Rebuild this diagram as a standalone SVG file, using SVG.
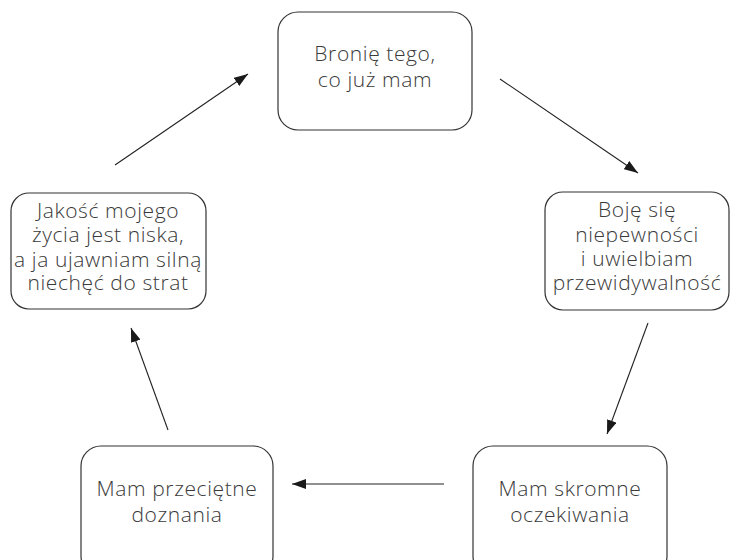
<svg xmlns="http://www.w3.org/2000/svg" width="731" height="560" viewBox="0 0 731 560">
<defs>
<marker id="ah" viewBox="0 0 14 10" refX="14" refY="5" markerWidth="14" markerHeight="10" markerUnits="userSpaceOnUse" orient="auto">
<path d="M0,0 L14,5 L0,10 Z" fill="#1a1a1a"/>
</marker>
</defs>
<style>
.box{fill:#fff;stroke:#333;stroke-width:1.2}
.t{font-family:"Open Sans","Noto Sans",sans-serif;font-size:21px;letter-spacing:0.6px;fill:#3a3a3a;text-anchor:middle;font-weight:300}
.c{stroke:#222;stroke-width:1.1;fill:none;marker-end:url(#ah)}
</style>
<rect width="731" height="560" fill="#fff"/>
<g id="n1">
<rect class="box" x="278" y="12" width="194" height="118" rx="20"/>
<text class="t" x="375" y="61">Bronię tego,</text>
<text class="t" x="375" y="87">co już mam</text>
</g>
<g id="n2">
<rect class="box" x="545" y="192" width="184" height="118" rx="18"/>
<text class="t" x="637" y="217">Boję się</text>
<text class="t" x="637" y="242">niepewności</text>
<text class="t" x="637" y="266">i uwielbiam</text>
<text class="t" x="637" y="290">przewidywalność</text>
</g>
<g id="n3">
<rect class="box" x="473" y="446" width="194" height="130" rx="20"/>
<text class="t" x="570" y="496">Mam skromne</text>
<text class="t" x="570" y="522">oczekiwania</text>
</g>
<g id="n4">
<rect class="box" x="81" y="446" width="192" height="130" rx="20"/>
<text class="t" x="177" y="496">Mam przeciętne</text>
<text class="t" x="177" y="522">doznania</text>
</g>
<g id="n5">
<rect class="box" x="11" y="193" width="195" height="116" rx="18"/>
<text class="t" x="108" y="218">Jakość mojego</text>
<text class="t" x="108" y="242">życia jest niska,</text>
<text class="t" x="108" y="267">a ja ujawniam silną</text>
<text class="t" x="108" y="290">niechęć do strat</text>
</g>
<g id="connectors">
<line class="c" x1="500" y1="79" x2="638" y2="173"/>
<line class="c" x1="648" y1="323" x2="607" y2="434"/>
<line class="c" x1="444" y1="484" x2="292" y2="484"/>
<line class="c" x1="168" y1="430" x2="131" y2="328"/>
<line class="c" x1="115" y1="165" x2="248" y2="74"/>
</g>
</svg>
